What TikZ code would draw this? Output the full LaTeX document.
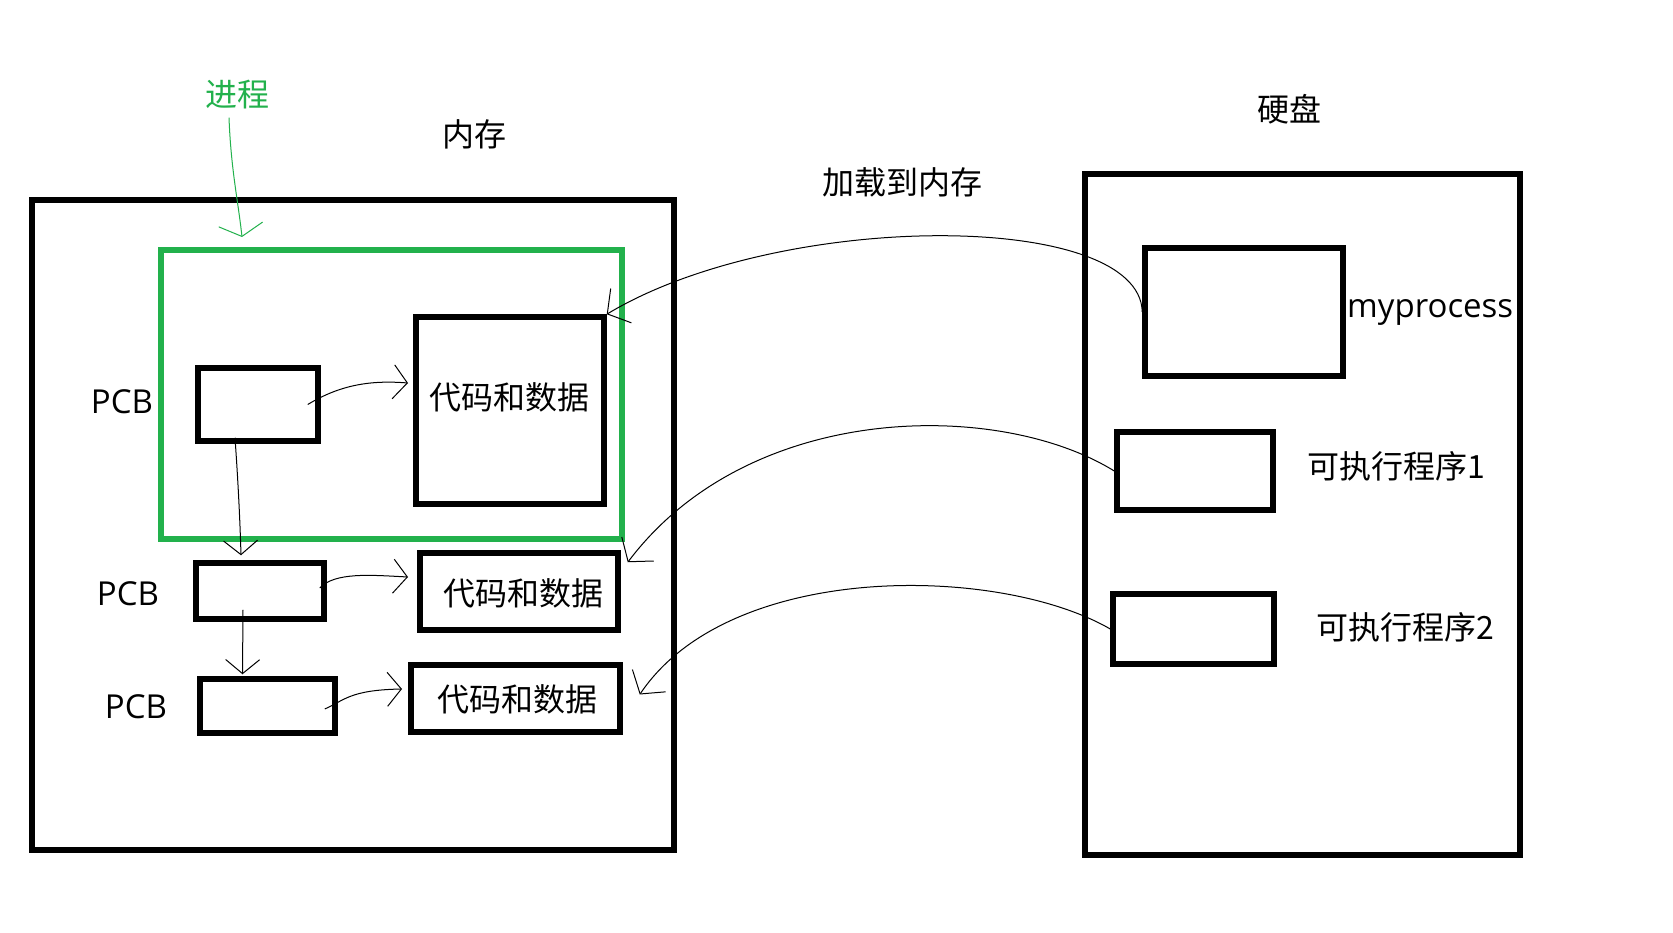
\documentclass[tikz,border=0pt]{standalone}
\usepackage{fontspec}
\setmainfont{Noto Sans CJK SC}
\newfontfamily\latinf{Open Sans}
\usetikzlibrary{arrows.meta,calc}
\definecolor{pgreen}{RGB}{34,177,76}
\begin{document}
\begin{tikzpicture}[x=1pt,y=-1pt,
  box/.style={draw,line width=5.5pt,inner sep=0pt},
  lbl/.style={inner sep=0pt,font=\fontsize{32}{38}\selectfont},
  latl/.style={inner sep=0pt,font=\latinf\fontsize{33}{40}\selectfont},
  harr/.style={line width=1pt,-{Straight Barb[length=16pt,width=40pt,line width=1pt]}},
  sarr/.style={line width=1pt,-{Straight Barb[length=14pt,width=34pt,line width=1pt]}},
  garr/.style={draw=pgreen,line width=1pt,-{Straight Barb[length=12pt,width=44pt,line width=1pt]}}]
\fill[white] (0,0) rectangle (1673,933);
\useasboundingbox (0,0) rectangle (1673,933);
% memory
\node[box,minimum width=642pt,minimum height=650pt] (mem) at (353,525) {};
\node[draw=pgreen,line width=5.5pt,inner sep=0pt,minimum width=461pt,minimum height=289pt] (grn) at (391.5,394.5) {};
\node[box,minimum width=120pt,minimum height=73pt] (pcb1) at (258,404.5) {};
\node[box,minimum width=188pt,minimum height=187pt] (code1) at (510,410.5) {};
\node[box,minimum width=128pt,minimum height=56pt] (pcb2) at (260,591) {};
\node[box,minimum width=198pt,minimum height=77pt] (code2) at (519,591.5) {};
\node[box,minimum width=135pt,minimum height=54pt] (pcb3) at (267.5,706) {};
\node[box,minimum width=209pt,minimum height=67pt] (code3) at (515.5,698.5) {};
% disk
\node[box,minimum width=435pt,minimum height=681pt] (disk) at (1302.5,514.5) {};
\node[box,minimum width=198pt,minimum height=128pt] (myp) at (1244,312) {};
\node[box,minimum width=156pt,minimum height=78pt] (ex1) at (1195,471) {};
\node[box,minimum width=161pt,minimum height=70pt] (ex2) at (1193.5,629) {};
% labels
\node[lbl,text=pgreen] (jc) at (237,95) {进程};
\node[lbl] (nc) at (474,134) {内存};
\node[lbl] (yp) at (1289,109) {硬盘};
\node[lbl] (jz) at (902,182) {加载到内存};
\node[latl] (l1) at (122,402) {PCB};
\node[latl] (l2) at (128,594) {PCB};
\node[latl] (l3) at (136,707) {PCB};
\node[lbl] (t1) at (509,397) {代码和数据};
\node[lbl] (t2) at (523,593) {代码和数据};
\node[lbl] (t3) at (517,699) {代码和数据};
\node[latl,anchor=west] (mpl) at (1347,312) {myprocess};
\node[lbl] (e1l) at (1396,466) {可执行程序1};
\node[lbl] (e2l) at (1405,627) {可执行程序2};
% coordinates
\coordinate (gtip) at (242,237);
\coordinate (tip2) at ($(code2.north east)+(7,12)$);
\coordinate (tip3) at ($(code3.east)+(17,-4)$);
\coordinate (c1in) at (408,383);
\coordinate (c2in) at (408,577);
\coordinate (c3in) at (402,689);
% green arrow
\draw[garr] ($(jc.south)+(-8,8)$) .. controls (231,170) and (238,200) .. (gtip);
% load curves
\draw[harr] (myp.west) .. controls (1140,210) and (780,210) .. (code1.north east);
\draw[harr] (ex1.west) .. controls (1000,400) and (750,400) .. (tip2);
\draw[harr] (ex2.west) .. controls (1000,565) and (730,560) .. (tip3);
% pcb to code
\draw[sarr] ($(pcb1.east)+(-13,0)$) .. controls (340,385) and (370,380) .. (c1in);
\draw[sarr] ($(pcb2.east)+(-7,-3)$) .. controls (335,572) and (370,575) .. (c2in);
\draw[sarr] ($(pcb3.east)+(-13,3)$) .. controls (345,700) and (350,690) .. (c3in);
% pcb chain
\draw[sarr] ($(pcb1.south)+(-23,-6)$) .. controls (238,480) and (240,520) .. ($(pcb2.north)+(-19,-5)$);
\draw[sarr] ($(pcb2.south)+(-17,-12)$) -- ($(pcb3.north)+(-25,-2)$);
\end{tikzpicture}
\end{document}
